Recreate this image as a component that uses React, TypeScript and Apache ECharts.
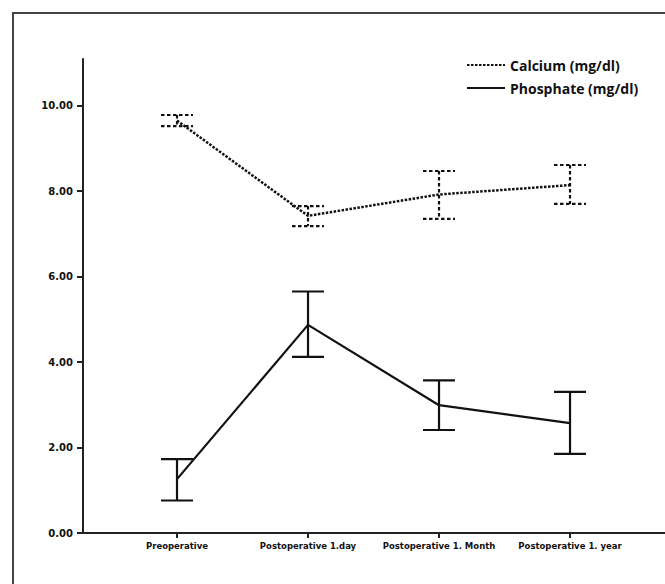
import React, { useEffect, useRef } from "react";
import * as echarts from "echarts";

const categories = [
  "Preoperative",
  "Postoperative 1.day",
  "Postoperative 1. Month",
  "Postoperative 1. year",
];
const calciumMean = [9.65, 7.42, 7.92, 8.14];
const calciumLow = [9.52, 7.18, 7.35, 7.7];
const calciumHigh = [9.78, 7.65, 8.47, 8.61];
const phosphateMean = [1.26, 4.87, 2.99, 2.57];
const phosphateLow = [0.76, 4.12, 2.41, 1.85];
const phosphateHigh = [1.73, 5.65, 3.57, 3.3];
const yTicks = [0, 2, 4, 6, 8, 10];
const xTicks = [0, 1, 2, 3];

const CA = "Calcium (mg/dl)";
const PH = "Phosphate (mg/dl)";

function errorRender(dashed: boolean) {
  return (params: any, api: any) => {
    const x = api.value(0);
    const lo = api.value(1);
    const hi = api.value(2);
    const pHi = api.coord([x, hi]);
    const pLo = api.coord([x, lo]);
    const hw = 16;
    const style: any = { stroke: "#111", lineWidth: 2.2 };
    if (dashed) style.lineDash = [3.5, 2.5];
    return {
      type: "group",
      children: [
        { type: "line", shape: { x1: pHi[0], y1: pHi[1], x2: pLo[0], y2: pLo[1] }, style },
        { type: "line", shape: { x1: pHi[0] - hw, y1: pHi[1], x2: pHi[0] + hw, y2: pHi[1] }, style },
        { type: "line", shape: { x1: pLo[0] - hw, y1: pLo[1], x2: pLo[0] + hw, y2: pLo[1] }, style },
      ],
    };
  };
}

export default function App() {
  const ref = useRef<HTMLDivElement>(null);
  useEffect(() => {
    if (!ref.current) return;
    const chart = echarts.init(ref.current, null, { renderer: "svg" });
    const option: any = {
      animation: false,
      backgroundColor: "#fff",
      graphic: [
        {
          type: "rect",
          shape: { x: 13, y: 13, width: 800, height: 800 },
          style: { fill: "none", stroke: "#444", lineWidth: 2 },
          z: -1,
        },
      ],
      legend: {
        orient: "vertical",
        left: 466,
        top: 58,
        itemWidth: 38,
        itemHeight: 14,
        itemGap: 9,
        padding: 0,
        data: [CA, PH],
        itemStyle: { opacity: 0 },
        textStyle: {
          fontFamily: "Open Sans",
          fontWeight: "bold",
          fontSize: 14,
          color: "#111",
        },
      },
      grid: { left: 83, right: 0, top: 59, bottom: 51 },
      xAxis: {
        type: "value",
        min: -0.7176,
        max: 3.725,
        splitLine: { show: false },
        axisLine: { show: true, onZero: false, lineStyle: { color: "#222", width: 2 } },
        axisTick: {
          show: true,
          customValues: xTicks,
          length: 5,
          lineStyle: { color: "#222", width: 2 },
        },
        axisLabel: {
          customValues: xTicks,
          margin: 8,
          fontFamily: "DejaVu Sans",
          fontWeight: "bold",
          fontSize: 8.5,
          color: "#111",
          formatter: (v: number) => categories[Math.round(v)] ?? "",
        },
      },
      yAxis: {
        type: "value",
        min: 0,
        max: 11.09,
        splitLine: { show: false },
        axisLine: { show: true, onZero: false, lineStyle: { color: "#222", width: 2 } },
        axisTick: {
          show: true,
          customValues: yTicks,
          length: 6,
          lineStyle: { color: "#222", width: 2 },
        },
        axisLabel: {
          customValues: yTicks,
          margin: 10,
          fontFamily: "DejaVu Sans",
          fontWeight: "bold",
          fontSize: 10,
          color: "#111",
          formatter: (v: number) => v.toFixed(2),
        },
      },
      series: [
        {
          name: CA,
          type: "line",
          symbol: "none",
          lineStyle: { color: "#111", width: 2.5, type: [2.5, 1.5] },
          itemStyle: { color: "#111" },
          data: calciumMean.map((v, i) => [i, v]),
        },
        {
          name: PH,
          type: "line",
          symbol: "none",
          lineStyle: { color: "#111", width: 2.2 },
          itemStyle: { color: "#111" },
          data: phosphateMean.map((v, i) => [i, v]),
        },
        {
          name: "caErr",
          type: "custom",
          renderItem: errorRender(true),
          encode: { x: 0, y: [1, 2] },
          data: calciumLow.map((v, i) => [i, v, calciumHigh[i]]),
          z: 3,
        },
        {
          name: "phErr",
          type: "custom",
          renderItem: errorRender(false),
          encode: { x: 0, y: [1, 2] },
          data: phosphateLow.map((v, i) => [i, v, phosphateHigh[i]]),
          z: 3,
        },
      ],
    };
    chart.setOption(option);
    return () => chart.dispose();
  }, []);
  return (
    <div
      ref={ref}
      style={{ position: "absolute", left: 0, top: 0, width: 665, height: 584 }}
    />
  );
}
